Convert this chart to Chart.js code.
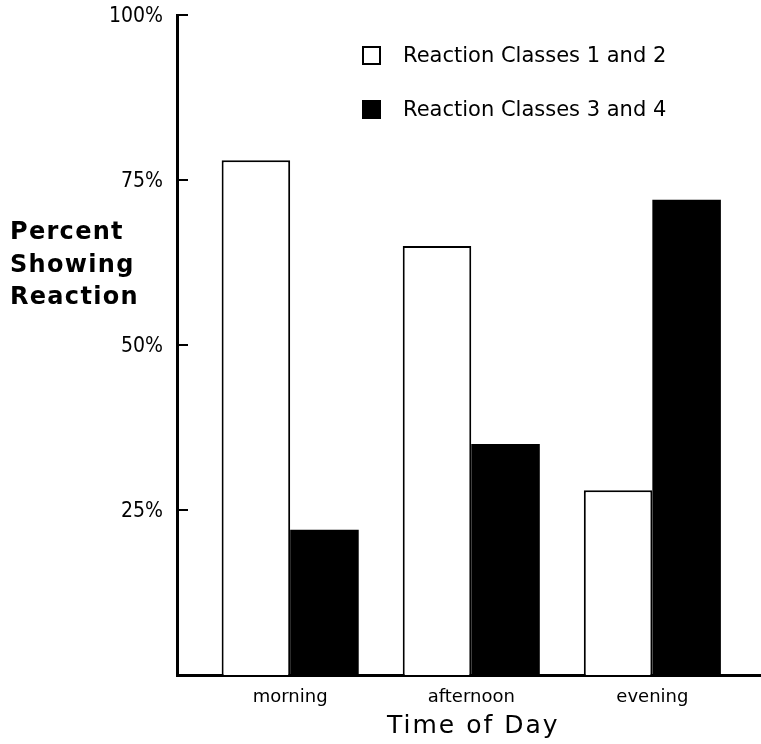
<!DOCTYPE html>
<html>
<head>
  <title>Percent Showing Reaction by Time of Day</title>
  <script src="https://cdn.jsdelivr.net/npm/chart.js"></script>
  <style>
    body {
      margin: 0;
      background-color: #fff;
    }

    .wrap {
      position: relative;
      width: 761px;
      height: 744px;
    }

    .y-title {
      position: absolute;
      left: 10px;
      top: 215px;
      font: bold 24px "DejaVu Sans";
      letter-spacing: 1.3px;
      line-height: 32.5px;
      color: #000;
    }

    .x-title {
      position: absolute;
      left: 387px;
      top: 710px;
      font: 25px "DejaVu Sans";
      letter-spacing: 2px;
      white-space: nowrap;
      color: #000;
    }

    .legend {
      position: absolute;
      left: 362px;
      top: 40px;
      font: 21px "DejaVu Sans";
      color: #000;
    }

    .legend-row {
      display: flex;
      align-items: center;
      height: 30px;
      margin-bottom: 24px;
      white-space: nowrap;
    }

    .legend-box {
      width: 15px;
      height: 15px;
      border: 2px solid #000;
      margin-right: 22px;
    }
  </style>
</head>
<body>
  <div class="wrap">
    <canvas id="reactionChart" width="761" height="744"></canvas>
    <div class="y-title">Percent<br>Showing<br>Reaction</div>
    <div class="x-title">Time of Day</div>
    <div class="legend" id="legend"></div>
  </div>

  <script>
    const timesOfDay = ['morning', 'afternoon', 'evening'];
    const seriesNames = ['Reaction Classes 1 and 2', 'Reaction Classes 3 and 4'];
    const classes12 = [78, 65, 28];
    const classes34 = [22, 35, 72];
    const yTicks = [25, 50, 75, 100];

    function toPoints(values) {
      return values.map((v, i) => ({ x: i, y: v }));
    }

    // little tick marks pointing into the plot, like the original
    const innerTicks = {
      id: 'innerTicks',
      afterDraw(chart) {
        const y = chart.scales.y;
        const ctx = chart.ctx;
        ctx.save();
        ctx.strokeStyle = '#000';
        ctx.lineWidth = 2;
        yTicks.forEach(v => {
          const py = Math.round(y.getPixelForValue(v));
          ctx.beginPath();
          ctx.moveTo(y.right, py);
          ctx.lineTo(y.right + 11, py);
          ctx.stroke();
        });
        ctx.restore();
      }
    };

    const labelFont = { family: 'DejaVu Sans', size: 18 };

    const chart = new Chart(document.getElementById('reactionChart'), {
      type: 'bar',
      data: {
        datasets: [{
          label: seriesNames[0],
          data: toPoints(classes12),
          backgroundColor: '#fff',
          borderColor: '#000',
          borderWidth: 2,
          categoryPercentage: 0.757,
          barPercentage: 1
        }, {
          label: seriesNames[1],
          data: toPoints(classes34),
          backgroundColor: '#000',
          borderColor: '#000',
          borderWidth: 0,
          categoryPercentage: 0.757,
          barPercentage: 1
        }]
      },
      options: {
        responsive: false,
        animation: false,
        devicePixelRatio: 1,
        layout: { padding: { top: 15, left: 0, right: 0, bottom: 0 } },
        plugins: {
          legend: { display: false },
          tooltip: { enabled: false }
        },
        scales: {
          x: {
            type: 'linear',
            min: -0.625,
            max: 2.6,
            offset: false,
            grid: { display: false, drawTicks: false },
            border: { color: '#000', width: 3 },
            afterBuildTicks: scale => {
              scale.ticks = timesOfDay.map((t, i) => ({ value: i }));
            },
            ticks: {
              callback: value => timesOfDay[value],
              color: '#000',
              font: labelFont,
              padding: 12,
              autoSkip: false,
              maxRotation: 0
            },
            afterFit: scale => {
              scale.height = 69;
              scale.paddingLeft = 0;
              scale.paddingRight = 0;
            }
          },
          y: {
            min: 0,
            max: 100,
            grid: { display: false, drawTicks: false },
            border: { color: '#000', width: 3 },
            afterBuildTicks: scale => {
              scale.ticks = [0].concat(yTicks).map(v => ({ value: v }));
            },
            ticks: {
              callback: value => value === 0 ? '' : value + '%',
              color: '#000',
              font: { family: 'DejaVu Sans Condensed', size: 21 },
              padding: 14,
              labelOffset: 2
            },
            afterFit: scale => {
              scale.width = 177;
              scale.paddingTop = 0;
              scale.paddingBottom = 0;
            }
          }
        }
      },
      plugins: [innerTicks]
    });

    // legend built from the datasets
    const legend = document.getElementById('legend');
    chart.data.datasets.forEach(ds => {
      const row = document.createElement('div');
      row.className = 'legend-row';
      const box = document.createElement('span');
      box.className = 'legend-box';
      box.style.backgroundColor = ds.backgroundColor;
      const text = document.createElement('span');
      text.textContent = ds.label;
      row.appendChild(box);
      row.appendChild(text);
      legend.appendChild(row);
    });
  </script>
</body>
</html>
